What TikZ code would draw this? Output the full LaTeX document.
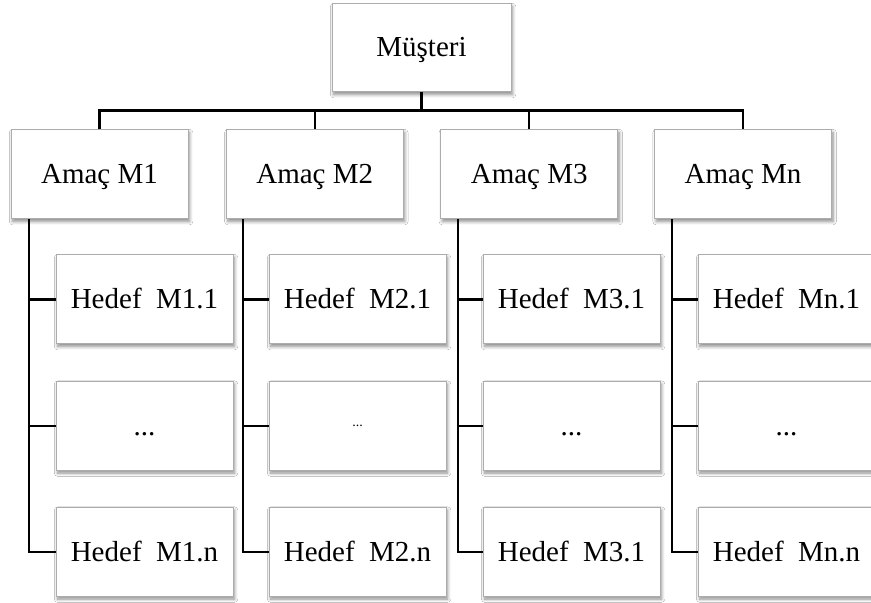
\documentclass[tikz,border=0pt]{standalone}
\usepackage{fontspec}
\setmainfont{Liberation Serif}
\usetikzlibrary{calc,shadows.blur}
\tikzset{
  box/.style={draw=gray!65, line width=0.5pt, fill=white, minimum width=88.5pt, minimum height=44.5pt,
    inner sep=0pt, text height=11.5pt, text depth=2.5pt, font=\fontsize{14.5}{16}\selectfont,
    blur shadow={shadow xshift=0.8pt, shadow yshift=-1.3pt, shadow blur radius=1.6pt, shadow blur steps=6, shadow opacity=45}},
  link/.style={draw=black, line width=1.1pt}
}
\begin{document}
\begin{tikzpicture}[x=0.5pt,y=-0.5pt]
\useasboundingbox (0,0) rectangle (871,603);
\clip (0,0) rectangle (871,603);
\fill[white] (0,0) rectangle (871,603);

% root
\node[box, minimum width=89.5pt, minimum height=44pt] (m) at (421.5,48) {Müşteri};

% goals
\node[box] (a1) at (99.5,174.5) {Amaç M1};
\node[box] (a2) at (314.7,174.5) {Amaç M2};
\node[box] (a3) at (529.2,174.5) {Amaç M3};
\node[box] (a4) at (743,174.5) {Amaç Mn};

% targets
\node[box] (h11) at (144.5,299.5) {Hedef\ \ M1.1};
\node[box] (h12) at (144.5,426) {...};
\node[box] (h13) at (144.5,552) {Hedef\ \ M1.n};

\node[box] (h21) at (357.5,299.5) {Hedef\ \ M2.1};
\node[box, text height=2pt, text depth=2pt, font=\fontsize{7}{8}\selectfont] (h22) at (357.5,426) {...};
\node[box] (h23) at (357.5,552) {Hedef\ \ M2.n};

\node[box] (h31) at (571.5,299.5) {Hedef\ \ M3.1};
\node[box] (h32) at (571.5,426) {...};
\node[box] (h33) at (571.5,552) {Hedef\ \ M3.1};

\node[box] (h41) at (786.5,299.5) {Hedef\ \ Mn.1};
\node[box] (h42) at (786.5,426) {...};
\node[box] (h43) at (786.5,552) {Hedef\ \ Mn.n};

% root to goals
\coordinate (bar) at (0,110.5);
\draw[link] (m.south) -- (m.south |- bar);
\draw[link] (a1.north) -- (a1.north |- bar) -- (a4.north |- bar) -- (a4.north);
\draw[link] (a2.north) -- (a2.north |- bar);
\draw[link] (a3.north) -- (a3.north |- bar);

% goals to targets
\foreach \g/\dx in {1/-70.5, 2/-71.7, 3/-71.2, 4/-71} {
  \coordinate (s\g) at ($(a\g.south)+(\dx,0)$);
  \draw[link] (s\g) |- (h\g3.west);
  \draw[link] (h\g1.west) -- (s\g |- h\g1.west);
  \draw[link] (h\g2.west) -- (s\g |- h\g2.west);
}
\end{tikzpicture}
\end{document}
